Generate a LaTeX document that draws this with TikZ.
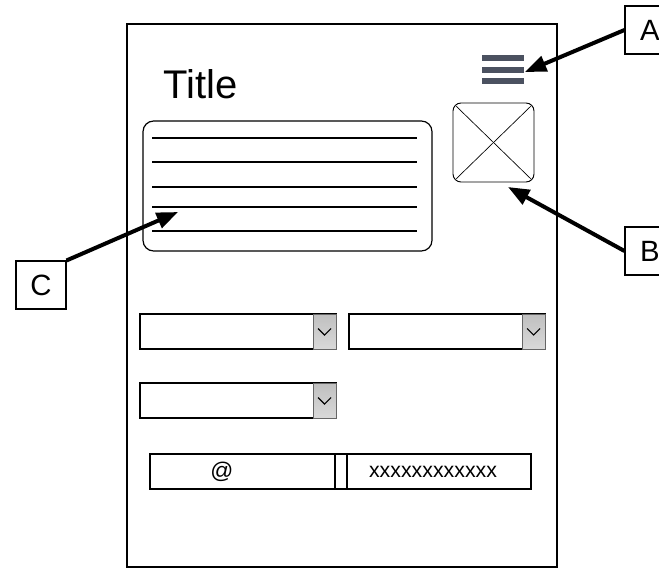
\documentclass[tikz,border=0pt]{standalone}
\usepackage{fontspec}
\setmainfont{Liberation Sans}
\usetikzlibrary{arrows.meta}

\definecolor{menugray}{HTML}{4B5160}

\tikzset{
	callout/.style={draw, line width=0.8pt, minimum width=37.5pt, minimum height=36pt, inner sep=0pt, font=\fontsize{22}{22}\selectfont},
	pointer/.style={line width=3pt, -{Triangle[length=16pt,width=12pt]}},
	field/.style={draw, line width=0.8pt},
}

\begin{document}
\begin{tikzpicture}[x=0.75pt, y=-0.75pt]
	\useasboundingbox (0, 0) rectangle (659, 570);
	% phone frame
	\draw[line width=1.5pt] (127, 24) rectangle (557, 567);
	\node[anchor=base west, font=\fontsize{30}{30}\selectfont, inner sep=0pt] (title) at (163, 99) {Title};

	% menu icon
	\foreach \y in {55, 67, 78}
		\fill[menugray] (482, \y) rectangle (524, \y+6);
	\coordinate (menu) at (525, 72);

	% image placeholder
	\draw[line width=0.7pt, rounded corners=6pt] (453, 103) rectangle (534, 182);
	\draw[line width=0.5pt] (456, 106) -- (531, 179);
	\draw[line width=0.5pt] (456, 179) -- (531, 106);
	\coordinate (image) at (508, 187);

	% text area
	\draw[line width=0.9pt, rounded corners=8pt] (143, 121) rectangle (432, 251);
	\foreach \y in {138, 162, 187, 207, 231}
		\draw[line width=0.9pt] (152, \y) -- (417, \y);
	\coordinate (text) at (178, 212);

	% drop-down lists
	\foreach \x/\y in {140/314, 349/314, 140/383} {
		\draw[field, fill=white] (\x, \y) rectangle (\x+196, \y+35);
		\shade[top color=gray!50, bottom color=gray!30, draw=gray!80!black, line width=0.6pt] (\x+173, \y) rectangle (\x+196, \y+35);
		\draw[line width=0.8pt] (\x+178, \y+14.5) -- (\x+184.5, \y+21) -- (\x+191, \y+14.5);
	}

	% e-mail field
	\draw[field] (150, 454) rectangle (531, 489);
	\draw[field] (335, 454) rectangle (347, 489);
	\node[font=\fontsize{17}{17}\selectfont] (at) at (222, 471.5) {@};
	\node[font=\fontsize{16}{16}\selectfont] (mail) at (433, 472) {xxxxxxxxxxxx};

	% callouts
	\node[callout] (A) at (650, 30) {A};
	\node[callout] (B) at (650, 251) {B};
	\node[callout] (C) at (41, 285) {C};
	\draw[pointer] (A.west) -- (menu);
	\draw[pointer] (B.west) -- (image);
	\draw[pointer] (C.north east) -- (text);
\end{tikzpicture}
\end{document}
